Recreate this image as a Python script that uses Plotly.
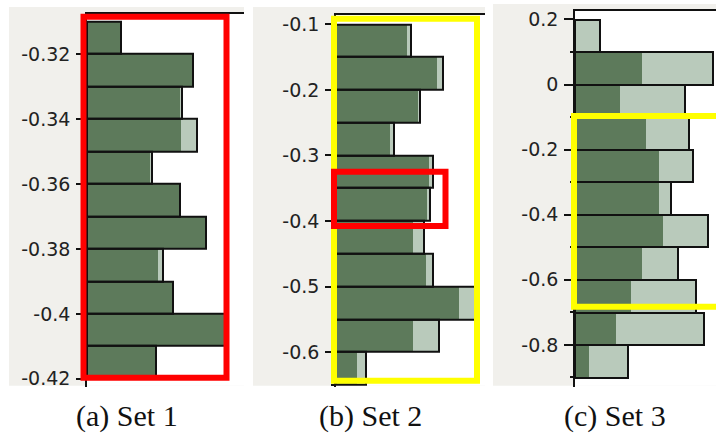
import plotly.graph_objects as go

W, H = 716, 437

# ---------------- data ----------------
set1_centers = [-0.315, -0.325, -0.335, -0.345, -0.355, -0.365, -0.375, -0.385, -0.395, -0.405, -0.415]
set1_dark = [34, 106, 93, 94, 63, 93, 119, 71, 86, 138, 69]
set1_total = [34, 106, 95, 110, 65, 93, 119, 76, 86, 138, 69]
set1_tickvals = [-0.32, -0.34, -0.36, -0.38, -0.40, -0.42]
set1_ticktext = ["-0.32", "-0.34", "-0.36", "-0.38", "-0.4", "-0.42"]

set2_centers = [-0.125, -0.175, -0.225, -0.275, -0.325, -0.375, -0.425, -0.475, -0.525, -0.575, -0.625]
set2_dark = [71, 101, 82, 54, 93, 91, 77, 90, 123, 77, 21]
set2_total = [75, 107, 84, 58, 97, 94, 88, 97, 139, 103, 30]
set2_tickvals = [-0.1, -0.2, -0.3, -0.4, -0.5, -0.6]
set2_ticktext = ["-0.1", "-0.2", "-0.3", "-0.4", "-0.5", "-0.6"]
set2_minor = [-0.15, -0.25, -0.35, -0.45, -0.55, -0.65]

set3_centers = [0.15, 0.05, -0.05, -0.15, -0.25, -0.35, -0.45, -0.55, -0.65, -0.75, -0.85]
set3_dark = [1, 67, 45, 71, 84, 84, 88, 67, 56, 41, 14]
set3_total = [25, 138, 110, 114, 118, 96, 133, 103, 121, 129, 53]
set3_tickvals = [0.2, 0.0, -0.2, -0.4, -0.6, -0.8]
set3_ticktext = ["0.2", "0", "-0.2", "-0.4", "-0.6", "-0.8"]
set3_minor = [0.1, -0.1, -0.3, -0.5, -0.7, -0.9]

captions = ["(a) Set 1", "(b) Set 2", "(c) Set 3"]

# ---------------- style ----------------
DARK = "#5d7a5b"
LIGHT = "#b9cabb"
GRAY = "#f1f0ec"
TXT = "#222222"


def px(x):
    return x / W


def py(y):
    return 1 - y / H


panels = [
    dict(centers=set1_centers, dark=set1_dark, total=set1_total, width=0.01,
         tv=set1_tickvals, tt=set1_ticktext, minor=None,
         xdom=(87, 244), ytop=11, ybot=389, xr=(0, 157),
         yr=(-0.42243, -0.30754), gray=(9, 4, 244, 388)),
    dict(centers=set2_centers, dark=set2_dark, total=set2_total, width=0.05,
         tv=set2_tickvals, tt=set2_ticktext, minor=set2_minor,
         xdom=(336, 485), ytop=12, ybot=389, xr=(0, 149),
         yr=(-0.65266, -0.08541), gray=(253, 4, 485, 388)),
    dict(centers=set3_centers, dark=set3_dark, total=set3_total, width=0.1,
         tv=set3_tickvals, tt=set3_ticktext, minor=set3_minor,
         xdom=(575, 716), ytop=8, ybot=389, xr=(0, 141),
         yr=(-0.9282, 0.22636), gray=(493, 1, 716, 388)),
]

fig = go.Figure()
layout = dict(
    width=W, height=H, margin=dict(l=0, r=0, t=0, b=0),
    paper_bgcolor="white", plot_bgcolor="white",
    barmode="overlay", bargap=0, showlegend=False,
    font=dict(family="DejaVu Sans", size=19, color=TXT),
)
shapes = []

for i, p in enumerate(panels):
    k = "" if i == 0 else str(i + 1)
    xa, ya = "x" + k, "y" + k
    common = dict(orientation="h", y=p["centers"], width=p["width"],
                  xaxis=xa, yaxis=ya, hoverinfo="skip")
    fig.add_trace(go.Bar(x=p["total"], marker=dict(color=LIGHT, line=dict(width=0)), **common))
    fig.add_trace(go.Bar(x=p["dark"], marker=dict(color=DARK, line=dict(width=0)), **common))
    fig.add_trace(go.Bar(x=p["total"], marker=dict(color="rgba(0,0,0,0)",
                                                     line=dict(width=2, color="#111111")), **common))
    layout["xaxis" + k] = dict(
        domain=[px(p["xdom"][0]), px(p["xdom"][1])], range=list(p["xr"]),
        anchor=ya, side="top", showline=True, linecolor="#111111", linewidth=1.5,
        showticklabels=False, ticks="", showgrid=False, zeroline=False, fixedrange=True,
    )
    ydict = dict(
        domain=[py(p["ybot"]), py(p["ytop"])], range=list(p["yr"]),
        anchor=xa, showline=True, linecolor="#111111", linewidth=1.5,
        tickmode="array", tickvals=p["tv"], ticktext=p["tt"],
        ticks="outside", ticklen=9, tickwidth=1.5, tickcolor="#111111",
        tickfont=dict(family="DejaVu Sans", size=19, color=TXT),
        ticklabelstandoff=2,
        showgrid=False, zeroline=False, fixedrange=True,
    )
    if p["minor"] is not None:
        ydict["minor"] = dict(tickmode="array", tickvals=p["minor"], ticks="outside",
                              ticklen=3, tickwidth=1.5, tickcolor="#111111", showgrid=False)
    layout["yaxis" + k] = ydict

    gx0, gy0, gx1, gy1 = p["gray"]
    shapes.append(dict(type="rect", xref="paper", yref="paper", layer="below",
                       x0=px(gx0), x1=px(gx1), y0=py(gy1), y1=py(gy0),
                       fillcolor=GRAY, line=dict(width=0)))
    shapes.append(dict(type="rect", xref="paper", yref="paper", layer="below",
                       x0=px(p["xdom"][0]), x1=px(p["xdom"][1]), y0=py(gy1), y1=py(p["ytop"]),
                       fillcolor="white", line=dict(width=0)))

# highlight boxes (paper pixel positions)
boxes = [
    ("#ff0000", 83.5, 14, 226.5, 380),
    ("#ffff00", 334, 16, 477, 383),
    ("#ff0000", 334, 171, 445.5, 226),
    ("#ffff00", 574, 114.5, 730, 308),
]
for col, x0, y0, x1, y1 in boxes:
    shapes.append(dict(type="rect", xref="paper", yref="paper", layer="above",
                       x0=px(x0), x1=px(x1), y0=py(y1), y1=py(y0),
                       fillcolor="rgba(0,0,0,0)", line=dict(color=col, width=6)))

layout["shapes"] = shapes

cap_x = [127, 370, 615]
layout["annotations"] = [
    dict(text=c, x=px(cx), y=py(419), xref="paper", yref="paper",
         xanchor="center", yanchor="middle", showarrow=False,
         font=dict(family="Liberation Serif", size=30, color="#111111"))
    for c, cx in zip(captions, cap_x)
]

fig.update_layout(**layout)
fig.write_html("out.html")
